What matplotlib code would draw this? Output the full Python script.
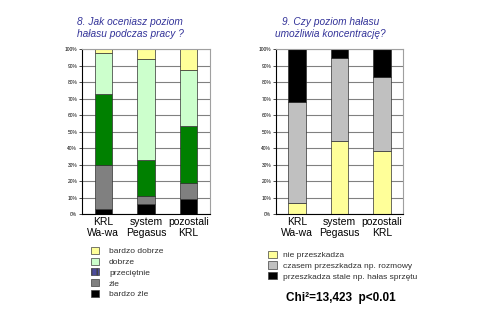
import matplotlib
matplotlib.use('Agg')
from matplotlib import pyplot as plt
from matplotlib.patches import Patch
import numpy as np

plt.rcParams['font.family'] = ['Liberation Sans', 'DejaVu Sans']

# Categories shared by both charts
categories = ['KRL\nWa-wa', 'system\nPegasus', 'pozostali\nKRL']

# Question 8 - shares in % (bottom to top)
q8_labels = ['bardzo źle', 'źle', 'przeciętnie', 'dobrze', 'bardzo dobrze']
q8_bardzo_zle = [3, 6, 9]
q8_zle = [27, 5, 10]
q8_przecietnie = [43, 22, 34.5]
q8_dobrze = [24.5, 61, 34]
q8_bardzo_dobrze = [2.5, 6, 12.5]

# Question 9 - shares in % (bottom to top)
q9_labels = ['nie przeszkadza', 'czasem przeszkadza np. rozmowy',
             'przeszkadza stale np. hałas sprzętu']
q9_nie = [6.5, 44.5, 38]
q9_czasem = [61.5, 50, 45]
q9_stale = [32, 5.5, 17]

yticks = np.arange(0, 101, 10)

fig = plt.figure(figsize=(4.8, 3.29), dpi=100)


def style_axes(ax):
    ax.set_xlim(-0.5, 2.5)
    ax.set_ylim(0, 100)
    ax.set_yticks(yticks)
    ax.set_yticklabels([f'{t}%' for t in yticks], fontsize=3.5)
    ax.set_xticks(range(3))
    ax.set_xticklabels(categories, fontsize=7.5, linespacing=1.1)
    ax.tick_params(axis='x', length=0, pad=2.5)
    ax.tick_params(axis='y', length=2, width=0.5, pad=1.5)
    ax.yaxis.grid(True, color='#808080', linewidth=0.8)
    ax.set_axisbelow(True)
    ax.spines['left'].set_color('black')
    ax.spines['bottom'].set_color('black')
    ax.spines['top'].set_color('#a0a0a0')
    ax.spines['right'].set_color('#a0a0a0')
    for s in ax.spines.values():
        s.set_linewidth(0.8)


x = np.arange(3)
w = 0.41

# ---- Chart 8 ----
ax1 = fig.add_axes([0.1708, 0.3495, 0.2667, 0.5015])
q8_series = [q8_bardzo_zle, q8_zle, q8_przecietnie, q8_dobrze, q8_bardzo_dobrze]
q8_colors = ['#000000', '#808080', '#008000', '#ccffcc', '#ffff99']
bottom = np.zeros(3)
for vals, col in zip(q8_series, q8_colors):
    ax1.bar(x, vals, w, bottom=bottom, color=col, edgecolor='#303030', linewidth=0.5)
    bottom += np.array(vals)
style_axes(ax1)

fig.text(0.271, 0.915, '8. Jak oceniasz poziom\nhałasu podczas pracy ?', ha='center', va='center',
         fontsize=7.3, style='italic', color='#333399', linespacing=1.15)

handles8 = [Patch(facecolor='#ffff99', edgecolor='#404040', linewidth=0.5),
            Patch(facecolor='#ccffcc', edgecolor='#404040', linewidth=0.5),
            Patch(facecolor='#4b4b9b', edgecolor='#404040', linewidth=0.5, hatch='|||'),
            Patch(facecolor='#808080', edgecolor='#404040', linewidth=0.5),
            Patch(facecolor='#000000', edgecolor='#404040', linewidth=0.5)]
fig.legend(handles8, q8_labels[::-1], loc='upper left', bbox_to_anchor=(0.19, 0.25),
           frameon=False, fontsize=6, handlelength=0.95, handleheight=0.9, handletextpad=1.2,
           labelspacing=0.3, borderpad=0, borderaxespad=0, labelcolor='#303030')

# ---- Chart 9 ----
ax2 = fig.add_axes([0.575, 0.3495, 0.2646, 0.5015])
q9_series = [q9_nie, q9_czasem, q9_stale]
q9_colors = ['#ffff99', '#c0c0c0', '#000000']
bottom = np.zeros(3)
for vals, col in zip(q9_series, q9_colors):
    ax2.bar(x, vals, w, bottom=bottom, color=col, edgecolor='#303030', linewidth=0.5)
    bottom += np.array(vals)
style_axes(ax2)

fig.text(0.688, 0.915, '9. Czy poziom hałasu\numożliwia koncentrację?', ha='center', va='center',
         fontsize=7.3, style='italic', color='#333399', linespacing=1.15)

handles9 = [Patch(facecolor=c, edgecolor='#404040', linewidth=0.5) for c in q9_colors]
fig.legend(handles9, q9_labels, loc='upper left', bbox_to_anchor=(0.559, 0.238),
           frameon=False, fontsize=6, handlelength=1.05, handleheight=1.0, handletextpad=0.7,
           labelspacing=0.25, borderpad=0, borderaxespad=0, labelcolor='#303030')

fig.text(0.596, 0.095, 'Chi²=13,423  p<0.01', ha='left', va='center',
         fontsize=8.5, fontweight='bold')

fig.savefig('out.png', dpi=100)
